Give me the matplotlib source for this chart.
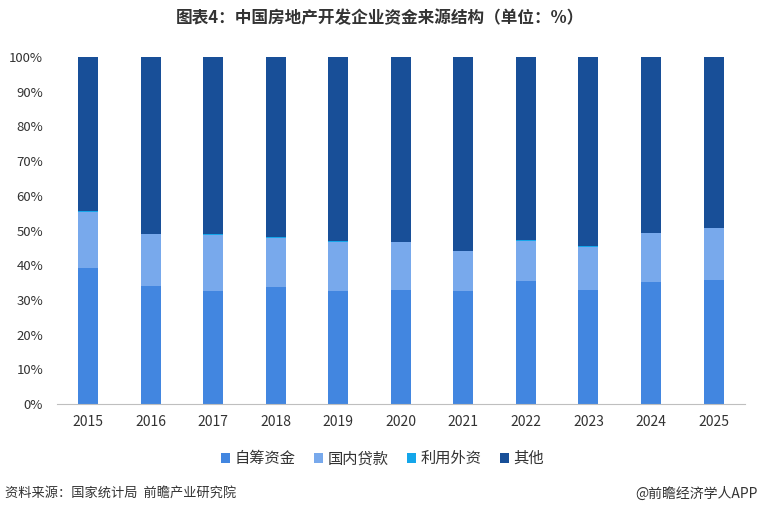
import numpy as np
import matplotlib
matplotlib.use('Agg')
import matplotlib.pyplot as plt

plt.rcParams['font.family'] = ['Noto Sans CJK SC', 'DejaVu Sans']

years = ['2015', '2016', '2017', '2018', '2019', '2020', '2021', '2022', '2023', '2024', '2025']
# 百分比
self_raised = [39.2, 34.1, 32.7, 33.6, 32.7, 32.9, 32.7, 35.4, 32.9, 35.1, 35.6]
loan_top = [55.6, 49.1, 49.0, 48.0, 46.9, 46.8, 44.2, 47.3, 45.4, 49.3, 50.8]
foreign = [0.3, 0.1, 0.2, 0.1, 0.1, 0.2, 0.1, 0.2, 0.1, 0.1, 0.1]

self_raised = np.array(self_raised)
foreign = np.array(foreign)
loan = np.array(loan_top) - self_raised - foreign
other = 100 - self_raised - loan - foreign

fig = plt.figure(figsize=(7.6, 5.16), dpi=100)
ax = fig.add_axes([0.075, 0.217, 0.905, 0.6725])

x = np.arange(len(years))
w = 0.32
c_self = '#4286E0'
c_loan = '#78A9EC'
c_for = '#14A6EA'
c_other = '#184F98'

ax.bar(x, self_raised, w, color=c_self, label='自筹资金')
ax.bar(x, loan, w, bottom=self_raised, color=c_loan, label='国内贷款')
ax.bar(x, foreign, w, bottom=self_raised + loan, color=c_for, label='利用外资')
ax.bar(x, other, w, bottom=self_raised + loan + foreign, color=c_other, label='其他')

ax.set_xlim(-0.5, len(years) - 0.5)
ax.set_ylim(0, 100)
ax.set_yticks(np.arange(0, 101, 10))
ax.set_yticklabels([f'{v}%' for v in range(0, 101, 10)], fontsize=9.5, color='#333333')
ax.set_xticks(x)
ax.set_xticklabels(years, fontsize=10, color='#333333')
ax.tick_params(axis='both', length=0)
ax.tick_params(axis='y', pad=10)
ax.tick_params(axis='x', pad=8)
for s in ['top', 'right', 'left']:
    ax.spines[s].set_visible(False)
ax.spines['bottom'].set_color('#BFBFBF')

fig.legend(*ax.get_legend_handles_labels(), loc='center', bbox_to_anchor=(0.503, 0.111),
           ncol=4, frameon=False, fontsize=11, handlelength=0.6, handleheight=0.6,
           handletextpad=0.3, columnspacing=1.2, labelcolor='#333333')

fig.text(0.5, 0.965, '图表4：中国房地产开发企业资金来源结构（单位：%）', ha='center', va='center',
         fontsize=12, fontweight='bold', color='#333333')
fig.text(0.007, 0.044, '资料来源：国家统计局  前瞻产业研究院', ha='left', va='center',
         fontsize=9.5, color='#333333')
fig.text(0.997, 0.044, '@前瞻经济学人APP', ha='right', va='center',
         fontsize=10, color='#333333')

fig.savefig('out.png', dpi=100)
